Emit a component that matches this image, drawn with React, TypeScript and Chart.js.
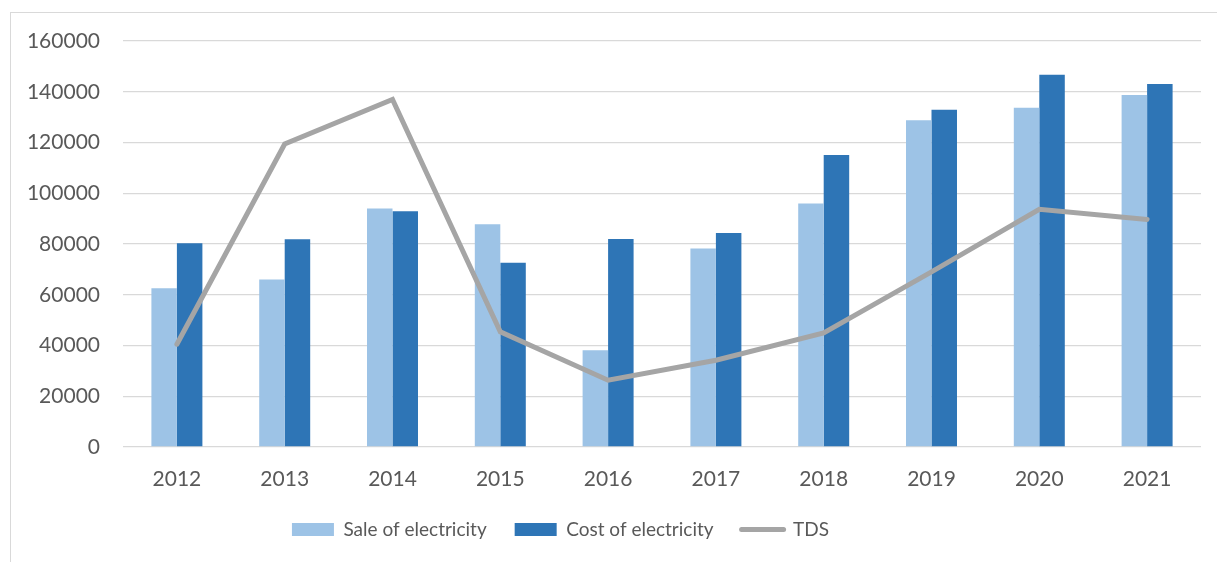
import React, { useEffect, useRef } from "react";
import { Chart, registerables } from "chart.js";

Chart.register(...registerables);

const years = ["2012", "2013", "2014", "2015", "2016", "2017", "2018", "2019", "2020", "2021"];
const saleOfElectricity = [62600, 66000, 94000, 87800, 38100, 78200, 96000, 128800, 133700, 138700];
const costOfElectricity = [80300, 81900, 92900, 72600, 82000, 84300, 115100, 132900, 146700, 143100];
const tdsValues = [40500, 119400, 137000, 45400, 26300, 34200, 45000, 69000, 93700, 89700];
const seriesNames = ["Sale of electricity", "Cost of electricity", "TDS"];
const yMin = 0;
const yMax = 160000;
const yStep = 20000;

const TEXT = "#595959";
const GRID = "#D9D9D9";
const LIGHT = "#9DC3E6";
const DARK = "#2E75B6";
const GRAY = "#A5A5A5";

const legendShift = {
  id: "legendShift",
  afterLayout(chart: any) {
    const l = chart.legend;
    if (l) {
      l.left -= 40;
      l.right -= 40;
    }
  },
};

export default function App() {
  const ref = useRef<HTMLCanvasElement>(null);

  useEffect(() => {
    const font = { family: "Lato", size: 21 };
    const legendFont = { family: "Lato", size: 19 };
    const chart = new Chart(ref.current as HTMLCanvasElement, {
      type: "bar",
      data: {
        labels: years,
        datasets: [
          {
            type: "bar",
            label: seriesNames[0],
            data: saleOfElectricity,
            backgroundColor: LIGHT,
            borderWidth: 0,
            order: 1,
            categoryPercentage: 0.473,
            barPercentage: 1,
          },
          {
            type: "bar",
            label: seriesNames[1],
            data: costOfElectricity,
            backgroundColor: DARK,
            borderWidth: 0,
            order: 1,
            categoryPercentage: 0.473,
            barPercentage: 1,
          },
          {
            type: "line",
            label: seriesNames[2],
            data: tdsValues,
            borderColor: GRAY,
            backgroundColor: GRAY,
            borderWidth: 5,
            pointRadius: 0,
            borderCapStyle: "round",
            tension: 0,
            order: 0,
          },
        ] as any,
      },
      options: {
        responsive: false,
        animation: false,
        layout: { padding: { left: 0, top: 41, right: 16, bottom: 13 } },
        scales: {
          x: {
            grid: { display: false },
            border: { display: false },
            ticks: { color: TEXT, font, padding: 12, maxRotation: 0 },
            afterFit: (s: any) => {
              s.height = 45;
            },
          },
          y: {
            min: yMin,
            max: yMax,
            ticks: {
              stepSize: yStep,
              color: TEXT,
              font,
              padding: 23,
              callback: (v: any) => String(v),
            },
            grid: { color: GRID, drawTicks: false, lineWidth: 1.3 },
            border: { display: false },
            afterFit: (s: any) => {
              s.width = 123;
            },
          },
        },
        plugins: {
          tooltip: { enabled: false },
          legend: {
            position: "bottom",
            labels: {
              color: TEXT,
              font: legendFont,
              padding: 28,
              usePointStyle: true,
              pointStyleWidth: 42,
              boxHeight: 13,
              generateLabels: (c: any) => {
                const items = Chart.defaults.plugins.legend.labels.generateLabels(c);
                items.sort((a: any, b: any) => a.datasetIndex - b.datasetIndex);
                items.forEach((it: any) => {
                  if (it.datasetIndex === 2) {
                    it.pointStyle = "line";
                    it.lineWidth = 5;
                    it.strokeStyle = GRAY;
                    it.fillStyle = GRAY;
                    it.lineCap = "round";
                  } else {
                    it.pointStyle = "rect";
                    it.lineWidth = 0;
                  }
                });
                return items;
              },
            },
          },
        },
      },
      plugins: [legendShift],
    });
    return () => chart.destroy();
  }, []);

  return (
    <>
      <div
        style={{
          position: "fixed",
          left: 10,
          top: 12,
          width: 1400,
          height: 800,
          borderLeft: `1px solid ${GRID}`,
          borderTop: `1px solid ${GRID}`,
        }}
      />
      <div style={{ position: "fixed", left: 0, top: 0, width: 1217, height: 562 }}>
        <canvas ref={ref} width={1217} height={562} style={{ display: "block" }} />
      </div>
    </>
  );
}
